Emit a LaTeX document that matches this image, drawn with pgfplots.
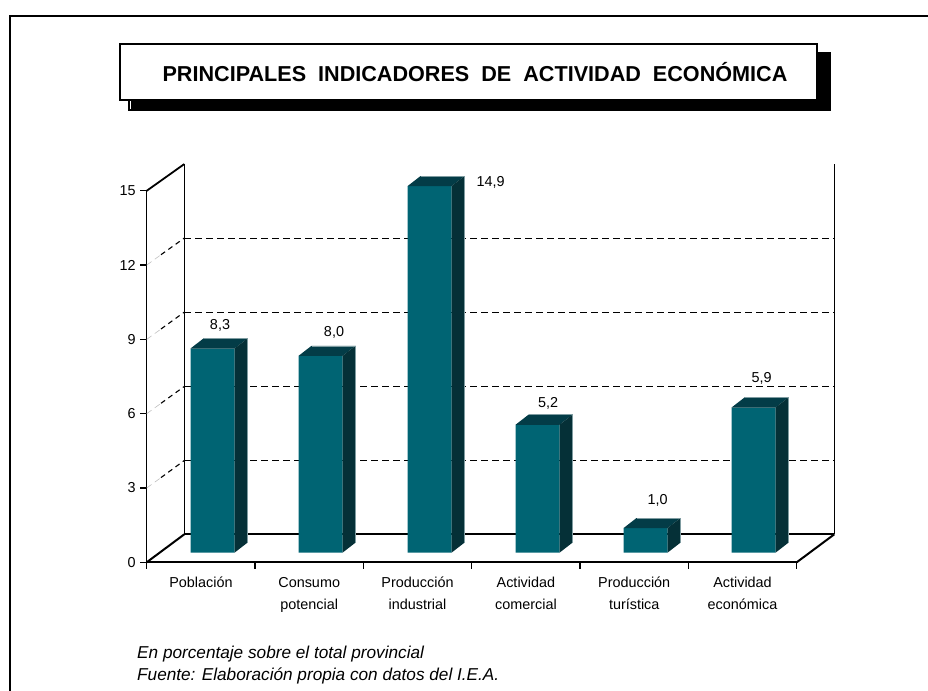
\documentclass[border=0pt]{standalone}
\usepackage{fontspec}
\setmainfont{Liberation Sans}
\usepackage{pgfplots}
\pgfplotsset{compat=1.18}
\definecolor{frente}{HTML}{006473}
\definecolor{techo}{HTML}{033C47}
\definecolor{lado}{HTML}{053037}
\definecolor{filo}{HTML}{7F9CA1}

\begin{document}
\begin{tikzpicture}[x=1pt,y=1pt]
\path[use as bounding box] (0,0) rectangle (928,690);

% marco exterior y titulo
\draw[line width=1.6pt] (10,-10) -- (10,674) -- (940,674);
\fill[black] (128,579) rectangle (831,638);
\fill[white] (129.5,580.5) rectangle (130.5,590);
\draw[line width=1.4pt,fill=white] (120,590) rectangle (817,646);
\node[font=\fontsize{21.6}{26}\selectfont\bfseries] at (475,618)
  {PRINCIPALES\ \ INDICADORES\ \ DE\ \ ACTIVIDAD\ \ ECONÓMICA};

% paredes, suelo, escala
\begin{axis}[
  at={(146.7pt,127.7pt)}, anchor=south west,
  scale only axis, width=650pt, height=371.5pt,
  xmin=146.7, xmax=796.7, ymin=0, ymax=15,
  clip=false,
  axis x line*=bottom, axis y line*=left,
  x axis line style={-,line width=2.2pt},
  y axis line style={-,line width=1.3pt},
  tick align=outside,
  major tick length=6.5pt,
  tick style={black,line width=1.2pt},
  xtick={146.7,255.03,363.37,471.7,580.03,688.37,796.7},
  xticklabels={},
  extra x ticks={201,309.2,417.5,525.9,634.2,742.5},
  extra x tick labels={Población,{Consumo\\potencial},{Producción\\industrial},{Actividad\\comercial},{Producción\\turística},{Actividad\\económica}},
  extra x tick style={major tick length=0pt},
  x tick label style={align=center,anchor=north,yshift=-11.5pt,font=\fontsize{14.4}{22}\selectfont},
  ytick={0,3,6,9,12,15},
  y tick label style={font=\fontsize{14.4}{17}\selectfont,xshift=-1pt},
  /pgf/number format/assume math mode=true,
]
  % rejilla del fondo
  \addplot[black,line width=1pt,dash pattern=on 6.5pt off 4.5pt] coordinates {(184.3,4.11)(834.3,4.11)};
  \addplot[black,line width=1pt,dash pattern=on 6.5pt off 4.5pt] coordinates {(184.3,7.10)(834.3,7.10)};
  \addplot[black,line width=1pt,dash pattern=on 6.5pt off 4.5pt] coordinates {(184.3,10.10)(834.3,10.10)};
  \addplot[black,line width=1pt,dash pattern=on 6.5pt off 4.5pt] coordinates {(184.3,13.09)(834.3,13.09)};
  % rejilla de la pared izquierda
  \addplot[black!25,line width=0.6pt,dash pattern=on 6pt off 4pt] coordinates {(146.7,3)(160,3.39)};
  \addplot[black!25,line width=0.6pt,dash pattern=on 6pt off 4pt] coordinates {(146.7,6)(160,6.39)};
  \addplot[black!25,line width=0.6pt,dash pattern=on 6pt off 4pt] coordinates {(146.7,9)(160,9.39)};
  \addplot[black!25,line width=0.6pt,dash pattern=on 6pt off 4pt] coordinates {(146.7,12)(160,12.39)};
  \addplot[black,line width=1.1pt,dash pattern=on 5pt off 4pt] coordinates {(161,3.42)(184.3,4.11)};
  \addplot[black,line width=1.1pt,dash pattern=on 5pt off 4pt] coordinates {(161,6.42)(184.3,7.10)};
  \addplot[black,line width=1.1pt,dash pattern=on 5pt off 4pt] coordinates {(161,9.42)(184.3,10.10)};
  \addplot[black,line width=1.1pt,dash pattern=on 5pt off 4pt] coordinates {(161,12.42)(184.3,13.09)};
  % aristas
  \addplot[black,line width=1.5pt] coordinates {(184.3,1.13)(184.3,16.08)};
  \addplot[black,line width=1.6pt] coordinates {(834.3,1.13)(834.3,16.08)};
  \addplot[black,line width=1.8pt] coordinates {(146.7,15)(184.3,16.08)};
  \addplot[black,line width=2.2pt] coordinates {(184.3,1.13)(834.3,1.13)};
  \addplot[black,line width=2pt] coordinates {(146.7,0)(184.3,1.13)};
  \addplot[black,line width=2pt] coordinates {(796.7,0)(834.3,1.13)};
\end{axis}

% barras: eje a toda pagina, x en pixeles, y=0 en la base de las barras
\begin{axis}[
  at={(0pt,0pt)}, anchor=south west,
  scale only axis, width=928pt, height=690pt,
  xmin=0, xmax=928, ymin=-5.581, ymax=22.467,
  hide axis, clip=false,
]
  \addplot[ybar,bar width=44pt,fill=frente,draw=none] coordinates {
    (212.5,8.3)(320.5,8.0)(429.5,14.9)(537.5,5.2)(645.5,1.0)(753.5,5.9)};

  \addplot[fill=techo,draw=none] coordinates {(190.5,8.3)(234.5,8.3)(247.5,8.71)(203.5,8.71)} -- cycle;
  \addplot[fill=techo,draw=none] coordinates {(298.5,8.0)(342.5,8.0)(355.5,8.41)(311.5,8.41)} -- cycle;
  \addplot[fill=techo,draw=none] coordinates {(407.5,14.9)(451.5,14.9)(464.5,15.31)(420.5,15.31)} -- cycle;
  \addplot[fill=techo,draw=none] coordinates {(515.5,5.2)(559.5,5.2)(572.5,5.61)(528.5,5.61)} -- cycle;
  \addplot[fill=techo,draw=none] coordinates {(623.5,1.0)(667.5,1.0)(680.5,1.41)(636.5,1.41)} -- cycle;
  \addplot[fill=techo,draw=none] coordinates {(731.5,5.9)(775.5,5.9)(788.5,6.31)(744.5,6.31)} -- cycle;

  \addplot[fill=lado,draw=none] coordinates {(234.5,0)(247.5,0.41)(247.5,8.71)(234.5,8.3)} -- cycle;
  \addplot[fill=lado,draw=none] coordinates {(342.5,0)(355.5,0.41)(355.5,8.41)(342.5,8.0)} -- cycle;
  \addplot[fill=lado,draw=none] coordinates {(451.5,0)(464.5,0.41)(464.5,15.31)(451.5,14.9)} -- cycle;
  \addplot[fill=lado,draw=none] coordinates {(559.5,0)(572.5,0.41)(572.5,5.61)(559.5,5.2)} -- cycle;
  \addplot[fill=lado,draw=none] coordinates {(667.5,0)(680.5,0.41)(680.5,1.41)(667.5,1.0)} -- cycle;
  \addplot[fill=lado,draw=none] coordinates {(775.5,0)(788.5,0.41)(788.5,6.31)(775.5,5.9)} -- cycle;

  % filo claro arriba y a la derecha
  \addplot[filo,line width=0.5pt] coordinates {(203.5,8.71)(247.5,8.71)(247.5,0.41)};
  \addplot[filo,line width=0.5pt] coordinates {(311.5,8.41)(355.5,8.41)(355.5,0.41)};
  \addplot[filo,line width=0.5pt] coordinates {(420.5,15.31)(464.5,15.31)(464.5,0.41)};
  \addplot[filo,line width=0.5pt] coordinates {(528.5,5.61)(572.5,5.61)(572.5,0.41)};
  \addplot[filo,line width=0.5pt] coordinates {(636.5,1.41)(680.5,1.41)(680.5,0.41)};
  \addplot[filo,line width=0.5pt] coordinates {(744.5,6.31)(788.5,6.31)(788.5,0.41)};

  \begin{scope}[every node/.style={font=\fontsize{14.4}{17}\selectfont}]
    \node at (axis cs:220,9.22) {8,3};
    \node at (axis cs:334,8.97) {8,0};
    \node at (axis cs:490.7,15.07) {14,9};
    \node at (axis cs:548,6.08) {5,2};
    \node at (axis cs:657.7,2.14) {1,0};
    \node at (axis cs:761.7,7.10) {5,9};
  \end{scope}
\end{axis}

% notas
\begin{scope}[every node/.style={font=\fontsize{17.2}{20}\selectfont\itshape,anchor=base west,inner sep=0pt}]
  \node at (137,31) {En porcentaje sobre el total provincial};
  \node at (137,9.5) {Fuente: Elaboración propia con datos del I.E.A.};
\end{scope}
\end{tikzpicture}
\end{document}
